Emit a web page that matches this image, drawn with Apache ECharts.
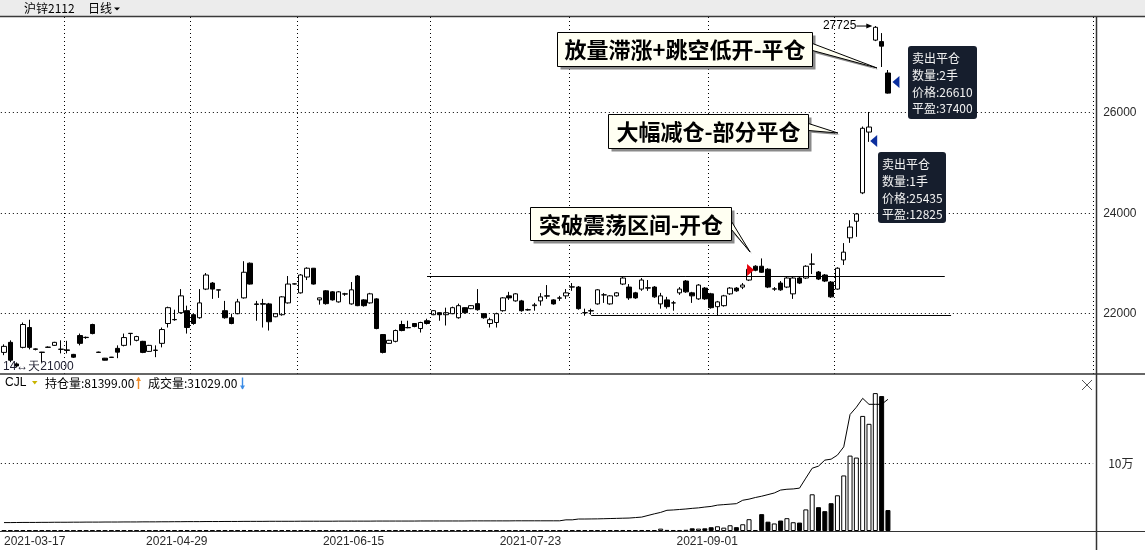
<!DOCTYPE html>
<html>
<head>
<meta charset="utf-8">
<script src="https://cdn.jsdelivr.net/npm/echarts@6.0.0/dist/echarts.min.js"></script>
<style>
html,body{margin:0;padding:0;background:#fff;overflow:hidden}
#chart{width:1145px;height:550px}
</style>
</head>
<body>
<div id="chart"></div>
<script>
// ---------------- data ----------------
const dates = [
'2021-03-17','2021-03-18','2021-03-19','2021-03-22','2021-03-23','2021-03-24','2021-03-25','2021-03-29','2021-03-30','2021-03-31',
'2021-04-01','2021-04-02','2021-04-06','2021-04-08','2021-04-09','2021-04-12','2021-04-13','2021-04-14','2021-04-15','2021-04-16',
'2021-04-19','2021-04-20','2021-04-21','2021-04-22','2021-04-23','2021-04-26','2021-04-27','2021-04-28','2021-04-29','2021-04-30',
'2021-05-06','2021-05-07','2021-05-10','2021-05-11','2021-05-13','2021-05-14','2021-05-17','2021-05-18','2021-05-19','2021-05-20',
'2021-05-21','2021-05-24','2021-05-25','2021-05-26','2021-05-27','2021-05-28','2021-05-31',
'2021-06-01','2021-06-02','2021-06-03','2021-06-04','2021-06-07','2021-06-08','2021-06-09','2021-06-10','2021-06-11',
'2021-06-15','2021-06-16','2021-06-17','2021-06-18','2021-06-21','2021-06-22','2021-06-23','2021-06-24','2021-06-25',
'2021-06-28','2021-06-29','2021-06-30',
'2021-07-01','2021-07-02','2021-07-05','2021-07-06','2021-07-07','2021-07-08','2021-07-09','2021-07-12','2021-07-13','2021-07-14',
'2021-07-15','2021-07-16','2021-07-19','2021-07-20','2021-07-21','2021-07-22','2021-07-23','2021-07-26','2021-07-27','2021-07-28',
'2021-07-29','2021-07-30',
'2021-08-02','2021-08-03','2021-08-04','2021-08-05','2021-08-06','2021-08-09','2021-08-10','2021-08-11','2021-08-12','2021-08-13',
'2021-08-16','2021-08-17','2021-08-18','2021-08-19','2021-08-20','2021-08-23','2021-08-24','2021-08-25','2021-08-26','2021-08-27',
'2021-08-30','2021-08-31',
'2021-09-01','2021-09-02','2021-09-03','2021-09-06','2021-09-07','2021-09-08','2021-09-09','2021-09-10','2021-09-13','2021-09-14',
'2021-09-15','2021-09-16','2021-09-17','2021-09-22','2021-09-23','2021-09-24','2021-09-27','2021-09-28','2021-09-29','2021-09-30',
'2021-10-08','2021-10-11','2021-10-12','2021-10-13','2021-10-14','2021-10-15','2021-10-18','2021-10-19','2021-10-20'
];

const open = [
21230,21430,21000,21330,21725,21290,21235,21330,21370,21290,
21280,21190,21565,21525,21785,21235,21115,21135,21310,21370,
21605,21470,21450,21250,21275,21410,21805,21885,22020,22060,
21980,21920,22490,22610,22475,22060,21920,22000,22315,23005,
22195,22200,22195,21940,21980,22215,22590,22415,22730,22905,
22275,22455,22435,22235,22395,22195,22750,22275,22215,22295,
21585,21410,21450,21785,21725,21805,21705,21860,21980,22020,
21980,22000,21920,22120,22100,22200,22000,21805,21825,22060,
22355,22255,22255,22080,22160,22255,22355,22275,22315,22355,
22530,22530,22020,22060,22195,22375,22195,22355,22590,22530,
22415,22490,22515,22530,22195,22275,22215,22415,22650,22415,
22295,22510,22395,22140,22160,22395,22510,22530,22670,22945,
22945,22885,22490,22610,22530,22395,22710,22710,22985,22830,
22770,22630,22490,23070,23510,23840,24405,25615,27445,27415,26790
];
const close = [
21350,21075,20960,21785,21330,21300,21230,21335,21430,21295,
21270,21135,21410,21530,21605,21230,21075,21130,21235,21525,
21610,21545,21230,21370,21270,21685,22120,21880,22355,21725,
21805,22215,22770,22490,22470,21920,21805,22235,22825,22590,
22185,22190,21840,22000,22335,22590,22595,22770,22905,22590,
22315,22200,22275,22435,22390,22475,22160,22160,22395,21705,
21230,21470,21665,21665,21720,21745,21825,21805,22060,21980,
22020,22120,22160,22020,22160,22080,21920,21880,22000,22315,
22315,22395,22060,22075,22175,22335,22350,22195,22310,22415,
22535,22100,22020,22055,22475,22375,22355,22415,22710,22315,
22315,22670,22510,22335,22355,22140,22215,22490,22435,22355,
22570,22295,22120,22235,22355,22510,22455,22570,22885,22865,
22825,22530,22495,22475,22710,22710,22610,22945,22990,22690,
22650,22335,22905,23225,23725,23985,25690,25715,27700,27325,26390
];
const low = [
21175,21035,20930,21310,21290,21270,21035,21320,21360,21210,
21210,21120,21370,21500,21590,21220,21070,21125,21115,21350,
21370,21450,21215,21240,21135,21330,21725,21860,22000,21605,
21780,21900,22470,22295,22315,21900,21790,21990,22300,22580,
21860,21725,21665,21930,21960,22200,22580,22400,22670,22580,
22180,22180,22260,22220,22355,22180,22150,22140,22200,21690,
21210,21400,21430,21650,21710,21730,21625,21785,21970,21860,
21765,21990,21900,22000,22090,22060,21900,21725,21725,22040,
22275,22240,22040,22060,22060,22160,22295,22180,22255,22295,
22455,22080,21960,21980,22180,22215,22180,22340,22570,22275,
22295,22455,22455,22315,22100,22100,22060,22375,22415,22215,
22275,22275,22100,21975,22140,22375,22435,22490,22650,22845,
22810,22510,22455,22455,22510,22295,22590,22690,22790,22670,
22630,22315,22475,22970,23410,23530,24380,25420,27425,26910,26380
];
const high = [
21390,21470,21030,21825,21880,21310,21240,21350,21440,21470,
21460,21200,21605,21545,21800,21245,21120,21140,21370,21605,
21615,21560,21460,21380,21370,21725,22140,22080,22490,22160,
22000,22490,22810,22630,22480,22255,22000,22295,23045,23020,
22255,22295,22215,22010,22350,22750,22605,22790,22925,22910,
22320,22470,22450,22450,22415,22630,22770,22290,22415,22310,
21590,21480,21685,21860,21860,21815,21840,21900,22070,22030,
22120,22140,22200,22130,22170,22490,22010,21920,22020,22330,
22435,22410,22275,22100,22215,22410,22570,22290,22355,22490,
22610,22550,22100,22100,22490,22410,22370,22430,22730,22590,
22435,22710,22670,22550,22415,22335,22255,22530,22670,22435,
22590,22530,22415,22255,22375,22530,22530,22610,22905,22965,
23100,22905,22530,22650,22730,22730,22730,22965,23200,22850,
22790,22650,22925,23405,23860,24005,25725,26015,27725,27585,26850
];
const volume = [
900,1200,700,1100,1000,800,900,700,800,1000,
900,700,1100,800,1000,900,700,800,1000,900,
800,900,1000,800,900,1200,1300,900,1400,1200,
1000,1100,1300,1000,900,1000,900,1000,1500,1300,
1000,900,1100,800,1100,1200,800,1200,1100,1200,
900,1000,900,1000,800,1100,1300,900,1000,1400,
1500,900,1000,1000,800,900,1000,900,1100,900,
1000,1000,1100,900,900,1200,1000,900,1000,1200,
900,1000,1100,800,900,1000,1000,900,900,1100,
1100,1500,1000,1000,1400,1000,1200,1100,1500,1400,
1200,1500,1300,1400,3500,1600,1500,1500,1800,4000,
3500,4000,5600,7000,5000,8500,5700,10000,17500,1500,
25000,13800,11200,15500,19000,13000,12500,32000,54400,35300,
29400,41200,52900,82300,111700,108800,170500,158800,204300,199900,31029
];
const openInterest = [
5200,5200,5250,5300,5300,5300,5350,5350,5400,5400,
5400,5450,5450,5500,5500,5500,5550,5550,5550,5600,
5600,5600,5650,5650,5650,5700,5700,5750,5750,5800,
5800,5800,5850,5850,5850,5900,5900,5900,5950,5950,
5950,5950,6000,6000,6000,6000,6000,6050,6050,6050,
6050,6050,6050,6100,6100,6100,6100,6100,6100,6150,
6150,6150,6150,6150,6150,6150,6200,6200,6200,6200,
6200,6200,6200,6200,6250,6250,6250,6250,6250,6250,
6250,6300,6300,6300,6300,6300,6300,6300,6300,6900,
6900,7400,7400,7450,7500,7600,7700,7800,7900,8000,
8300,8600,9600,10600,11500,12800,13000,13300,13600,14000,
14300,14800,15200,16000,16300,16600,16900,19000,19700,20700,
21500,22500,23500,25300,25800,26000,26500,32700,38800,40100,
43800,44400,46900,52000,72000,76500,82000,78300,78300,78300,81399
];
const priceTicks = [22000, 24000, 26000];
const volumeTicks = [100000];
const labelDates = ['2021-03-17','2021-04-29','2021-06-15','2021-07-23','2021-09-01'];
const resistanceLevel = 22750;
const supportLevel = 21975;
const tradeIndex = [118, 137, 140];
const tradePrice = [22870, 25435, 26610];
const tradeSide = ['buy', 'sell', 'sell'];
const tradeQty = [3, 1, 2];
const tradePnl = [0, 12825, 37400];
const calloutTexts = ['放量滞涨+跳空低开-平仓', '大幅减仓-部分平仓', '突破震荡区间-开仓'];

// ---------------- layout ----------------
const N_CAT = 173;
const categories = dates.concat(Array.from({length: N_CAT - dates.length}, () => ''));
const isMonthStart = dates.map((d, i) => i > 0 && d.slice(5, 7) !== dates[i - 1].slice(5, 7));
const isUp = i => close[i] >= open[i];
const GRID_LEFT = 0.84, GRID_W = 1092.3;
const LAT = '"Liberation Sans", Arial, sans-serif';
const CJK = '"Noto Sans CJK SC", sans-serif';
const lastIdx = dates.length - 1;

const chart = echarts.init(document.getElementById('chart'), null, {renderer: 'canvas'});

const markerLayout = [ {dx: 1.5}, {dx: 4.7}, {dx: 8} ];

const option = {
  animation: false,
  backgroundColor: '#ffffff',
  grid: [
    {left: GRID_LEFT, top: 17, width: GRID_W, height: 357},
    {left: GRID_LEFT, top: 390, width: GRID_W, height: 141}
  ],
  xAxis: [
    {type: 'category', gridIndex: 0, data: categories, boundaryGap: true,
     axisLine: {show: false}, axisTick: {show: false}, axisLabel: {show: false},
     splitLine: {show: true, interval: (i) => !!isMonthStart[i],
                 lineStyle: {color: '#000', width: 1, type: [1, 3]}}},
    {type: 'category', gridIndex: 1, data: categories, boundaryGap: true,
     axisLine: {show: false}, axisTick: {show: false}, splitLine: {show: false},
     axisLabel: {show: true, interval: (i, v) => labelDates.includes(v),
                 color: '#2a2a2a', fontSize: 12, fontFamily: LAT, margin: 5,
                 alignMinLabel: 'left', padding: [0, 8, 0, 0]}}
  ],
  yAxis: [
    {type: 'value', gridIndex: 0, position: 'right', min: 20800, max: 27905, interval: 400,
     axisLine: {show: false}, axisTick: {show: false}, splitLine: {show: false},
     axisLabel: {formatter: v => priceTicks.includes(v) ? String(v) : '',
                 color: '#2a2a2a', fontSize: 12, fontFamily: LAT, margin: 10}},
    {type: 'value', gridIndex: 1, position: 'right', min: 0, max: 208900, interval: 100000,
     axisLine: {show: false}, axisTick: {show: false}, splitLine: {show: false},
     axisLabel: {formatter: v => volumeTicks.includes(v) ? (v / 10000) + '万' : '',
                 color: '#2a2a2a', fontSize: 12, fontFamily: CJK, margin: 15}},
    {type: 'value', gridIndex: 1, show: false, min: 0, max: 87150}
  ],
  series: [
    {
      type: 'candlestick', xAxisIndex: 0, yAxisIndex: 0, barWidth: 5,
      data: dates.map((d, i) => [open[i], close[i], low[i], high[i]]),
      itemStyle: {color: '#ffffff', color0: '#000000', borderColor: '#000000', borderColor0: '#000000', borderWidth: 1},
      markLine: {
        silent: true, symbol: ['none', 'none'], label: {show: false}, animation: false,
        data: priceTicks.map(v => ({yAxis: v, lineStyle: {color: '#000', width: 1, type: [1, 3]}})).concat([
          [{coord: [67, resistanceLevel], lineStyle: {color: '#000', width: 1, type: 'solid'}}, {coord: [149, resistanceLevel]}],
          [{coord: [93, supportLevel], lineStyle: {color: '#000', width: 1, type: 'solid'}}, {coord: [150, supportLevel]}]
        ])
      },
      markPoint: {
        silent: true, label: {show: false}, animation: false,
        data: tradeIndex.map((k, j) => ({
          coord: [k, tradePrice[j]],
          symbol: tradeSide[j] === 'buy' ? 'path://M0,0L10,6L0,12Z' : 'path://M10,0L0,6L10,12Z',
          symbolSize: [7, 12],
          symbolOffset: [markerLayout[j].dx, 0],
          itemStyle: {color: tradeSide[j] === 'buy' ? '#e6000a' : '#0b2e9e'}
        }))
      }
    },
    {
      type: 'bar', xAxisIndex: 1, yAxisIndex: 1, barWidth: 5,
      data: volume.map((v, i) => ({value: v, itemStyle: isUp(i)
        ? {color: '#ffffff', borderColor: '#000000', borderWidth: 1}
        : {color: '#000000', borderColor: '#000000', borderWidth: 1}})),
      markLine: {
        silent: true, symbol: ['none', 'none'], label: {show: false}, animation: false,
        data: volumeTicks.map(v => ({yAxis: v, lineStyle: {color: '#000', width: 1, type: [1, 3]}}))
      }
    },
    {
      type: 'line', xAxisIndex: 1, yAxisIndex: 2, data: openInterest, symbol: 'none',
      lineStyle: {color: '#000', width: 1}, z: 5
    }
  ]
};
chart.setOption(option);

function buildGraphic() {
  const P = (i, v) => chart.convertToPixel({gridIndex: 0}, [i, v]);
  const els = [];
  const txt = (x, y, text, st) => els.push({type: 'text', x, y, z: 70, silent: true,
    style: Object.assign({text, fill: '#000', fontSize: 12, fontFamily: CJK, align: 'left', verticalAlign: 'middle'}, st || {})});
  const line = (x1, y1, x2, y2, stroke, w, z) => els.push({type: 'line', z: z || 40, silent: true,
    shape: {x1, y1, x2, y2}, style: {stroke, lineWidth: w || 1}});
  const poly = (points, fill, stroke, z) => els.push({type: 'polygon', z: z || 60, silent: true,
    shape: {points}, style: {fill, stroke: stroke || null, lineWidth: 1}});
  const rect = (x, y, w, h, fill, stroke, r, z) => els.push({type: 'rect', z: z || 60, silent: true,
    shape: {x, y, width: w, height: h, r: r || 0}, style: {fill, stroke: stroke || null, lineWidth: 1}});
  const arrow = (x, yTop, yBot, up, color) => {
    line(x, yTop, x, yBot, color, 1.4, 70);
    if (up) poly([[x - 2.5, yTop + 3.5], [x, yTop - 0.5], [x + 2.5, yTop + 3.5]], color, null, 70);
    else poly([[x - 2.5, yBot - 3.5], [x, yBot + 0.5], [x + 2.5, yBot - 3.5]], color, null, 70);
  };

  // title bar
  rect(0, 0, 1145, 16, '#ececec', null, 0, 1);
  line(0, 16.5, 1145, 16.5, '#3a3a3a', 1.5);
  txt(24, 8.5, '沪锌2112');
  txt(88, 8.5, '日线');
  poly([[114, 7.5], [120, 7.5], [117, 10.5]], '#000', null, 70);

  // pane frames
  line(0, 374, 1145, 374, '#333', 1.5);
  line(1096.5, 17, 1096.5, 550, '#333', 1.5);
  line(0, 531.5, 1145, 531.5, '#333', 1.2);

  // bottom-left info of main pane
  txt(3, 367, '14↔天21000', {fill: '#223', fontFamily: LAT});

  // indicator header
  txt(5, 383, 'CJL', {fontFamily: LAT});
  poly([[32, 381], [37.5, 381], [34.75, 384.5]], '#c8b400', null, 70);
  txt(45, 383, '持仓量:' + openInterest[lastIdx].toFixed(2));
  arrow(138.5, 377.5, 389, true, '#f08c28');
  txt(148, 383, '成交量:' + volume[lastIdx].toFixed(2));
  arrow(242.5, 377.5, 389, false, '#3c8ce6');
  line(1082, 380, 1092, 390, '#555', 1, 70);
  line(1082, 390, 1092, 380, '#555', 1, 70);

  // max price label
  let hiIdx = 0;
  high.forEach((h, i) => { if (h > high[hiIdx]) hiIdx = i; });
  const hp = P(hiIdx, high[hiIdx]);
  txt(hp[0] - 19, hp[1], String(high[hiIdx]), {align: 'right', fontFamily: LAT});
  line(hp[0] - 19, hp[1], hp[0] - 5, hp[1], '#000', 1, 70);
  poly([[hp[0] - 9, hp[1] - 2.5], [hp[0] - 3, hp[1]], [hp[0] - 9, hp[1] + 2.5]], '#000', null, 70);

  // callouts
  const calloutAnchor = [
    {idx: 139, val: low[139], dx: -4.6, dy: 1, bx: -320, by: -36, w: 255, h: 34, b0: 11, b1: 18},
    {idx: 136, val: 25596, dx: -24.7, dy: 0, bx: -230, by: -19, w: 200, h: 34, b0: 9, b1: 16},
    {idx: 118, val: high[118], dx: 1, dy: -16.2, bx: -220, by: -45, w: 201, h: 33, b0: 14, b1: 22}
  ];
  calloutAnchor.forEach((c, j) => {
    const p = P(c.idx, c.val);
    const tx = p[0] + c.dx, ty = p[1] + c.dy;
    const bx = Math.round(tx + c.bx) + 0.5, by = Math.round(ty + c.by) + 0.5;
    const ex = bx + c.w;
    poly([[ex, by + c.b0 + 2], [tx + 2, ty + 2], [ex, by + c.b1 + 2]], '#8a8a8a', null, 60);
    rect(bx + 3, by + 3, c.w, c.h, '#8a8a8a', null, 0, 61);
    poly([[ex, by + c.b0], [tx, ty], [ex, by + c.b1]], '#fffff2', '#000', 62);
    rect(bx, by, c.w, c.h, '#fffff2', '#000', 0, 63);
    els.push({type: 'text', x: bx + c.w / 2, y: by + c.h / 2 + 0.5, z: 64, silent: true,
      style: {text: calloutTexts[j], fill: '#000', fontSize: 22, fontWeight: 'bold', fontFamily: CJK,
              align: 'center', verticalAlign: 'middle'}});
  });

  // trade tooltips (sell)
  const tipLayout = {137: {dx: 9, dy: 10.5, w: 68, h: 71}, 140: {dx: 20, dy: -36.5, w: 69, h: 73}};
  tradeIndex.forEach((k, j) => {
    if (tradeSide[j] !== 'sell') return;
    const L = tipLayout[k];
    const p = P(k, tradePrice[j]);
    const bx = Math.round(p[0] + L.dx), by = Math.round(p[1] + L.dy);
    rect(bx, by, L.w, L.h, '#161e2d', null, 3, 65);
    els.push({type: 'text', x: bx + 4, y: by + 4, z: 66, silent: true,
      style: {text: ['卖出平仓', '数量:' + tradeQty[j] + '手', '价格:' + tradePrice[j], '平盈:' + tradePnl[j]].join('\n'),
              fill: '#f2f2f2', fontSize: 12, fontFamily: CJK, lineHeight: 16.8, align: 'left', verticalAlign: 'top'}});
  });
  return els;
}
chart.setOption({graphic: buildGraphic()});
</script>
</body>
</html>
